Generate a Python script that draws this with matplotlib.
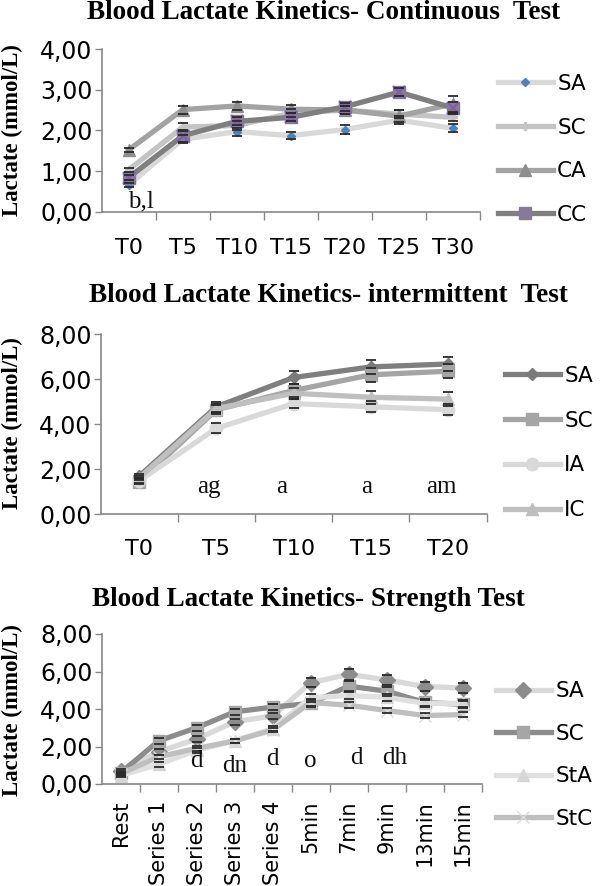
import matplotlib
matplotlib.use('Agg')
import matplotlib.pyplot as plt
import numpy as np

# ---------------- data ----------------
p1_cats = ['T0', 'T5', 'T10', 'T15', 'T20', 'T25', 'T30']
p1_names = ['SA', 'SC', 'CA', 'CC']
p1_SA = [0.66, 1.78, 1.97, 1.87, 2.02, 2.25, 2.05]
p1_SC = [1.03, 2.08, 2.12, 2.42, 2.50, 2.40, 2.32]
p1_CA = [1.52, 2.51, 2.60, 2.52, 2.50, 2.35, 2.65]
p1_CC = [0.84, 1.87, 2.22, 2.32, 2.58, 2.94, 2.55]
p1_err_SA = [0.05, 0.10, 0.10, 0.08, 0.10, 0.10, 0.10]
p1_err_SC = [0.05, 0.10, 0.10, 0.10, 0.10, 0.10, 0.10]
p1_err_CA = [0.05, 0.10, 0.10, 0.10, 0.10, 0.15, 0.20]
p1_err_CC = [0.05, 0.15, 0.10, 0.10, 0.10, 0.10, 0.15]
p1_yticks = [0, 1, 2, 3, 4]
p1_ylabels = ['0,00', '1,00', '2,00', '3,00', '4,00']
p1_notes = ['b,l']
p1_note_x = [0.22]
p1_note_y = [0.11]

p2_cats = ['T0', 'T5', 'T10', 'T15', 'T20']
p2_names = ['SA', 'SC', 'IA', 'IC']
p2_SA = [1.70, 4.78, 6.08, 6.55, 6.68]
p2_SC = [1.45, 4.65, 5.50, 6.20, 6.36]
p2_IA = [1.50, 3.82, 4.92, 4.78, 4.65]
p2_IC = [1.62, 4.70, 5.38, 5.20, 5.12]
p2_err_SA = [0.10, 0.22, 0.28, 0.30, 0.32]
p2_err_SC = [0.10, 0.20, 0.28, 0.30, 0.30]
p2_err_IA = [0.10, 0.22, 0.20, 0.25, 0.25]
p2_err_IC = [0.10, 0.20, 0.25, 0.30, 0.30]
p2_yticks = [0, 2, 4, 6, 8]
p2_ylabels = ['0,00', '2,00', '4,00', '6,00', '8,00']
p2_notes = ['ag', 'a', 'a', 'am']
p2_note_x = [0.9, 1.85, 2.95, 3.92]
p2_note_y = [0.93, 0.93, 0.93, 0.93]

p3_cats = ['Rest', 'Series 1', 'Series 2', 'Series 3', 'Series 4',
           '5min', '7min', '9min', '13min', '15min']
p3_names = ['SA', 'SC', 'StA', 'StC']
p3_SA = [0.70, 1.72, 2.40, 3.32, 3.63, 5.40, 5.85, 5.55, 5.20, 5.12]
p3_SC = [0.60, 2.30, 3.00, 3.85, 4.10, 4.30, 5.22, 4.95, 4.35, 4.25]
p3_StA = [0.45, 1.05, 1.80, 2.30, 2.95, 4.60, 4.72, 4.62, 4.30, 4.30]
p3_StC = [0.55, 1.45, 1.90, 2.30, 2.88, 4.35, 4.20, 3.92, 3.65, 3.70]
p3_err_SA = [0.10, 0.15, 0.15, 0.15, 0.15, 0.25, 0.30, 0.25, 0.25, 0.25]
p3_err_SC = [0.10, 0.15, 0.15, 0.15, 0.15, 0.20, 0.25, 0.25, 0.20, 0.20]
p3_err_StA = [0.10, 0.12, 0.12, 0.12, 0.12, 0.20, 0.20, 0.20, 0.20, 0.20]
p3_err_StC = [0.10, 0.12, 0.12, 0.12, 0.12, 0.20, 0.15, 0.15, 0.15, 0.15]
p3_yticks = [0, 2, 4, 6, 8]
p3_ylabels = ['0,00', '2,00', '4,00', '6,00', '8,00']
p3_notes = ['d', 'dn', 'd', 'o', 'd', 'dh']
p3_note_x = [2, 3, 4, 5, 6.2, 7.2]
p3_note_y = [0.92, 0.66, 1.01, 0.92, 1.07, 1.07]

# ---------------- style ----------------
SANS = 'DejaVu Sans'
SERIF = 'Liberation Serif'
SPINE = '#888888'
ERR = '#2a2a2a'

fig = plt.figure(figsize=(6, 8.86), dpi=100)


def panel(rect, cats, values, errors, names, styles, yticks, ylabels,
          notes, note_x, note_y, rot, xfs, xpad, legend_anchor, legend_spacing):
    ax = fig.add_axes(rect)
    x = np.arange(len(cats))
    for vals, errs, name, st in zip(values, errors, names, styles):
        ax.plot(x, vals, color=st['lc'], lw=3.8, marker=st['m'],
                markersize=st['ms'], markerfacecolor=st['mc'],
                markeredgecolor=st['mc'], label=name, zorder=2,
                solid_joinstyle='round')
        if st.get('overlay'):
            ax.plot(x, vals, ls='none', marker='x', markersize=st['ms'] * 0.9,
                    markeredgecolor=st['overlay'], markeredgewidth=1.6, zorder=3)
        ax.errorbar(x, vals, yerr=errs, fmt='none', ecolor='#777777',
                    elinewidth=0.5, capsize=0, zorder=1.5)
        ax.errorbar(x, vals, yerr=errs, fmt='none', ecolor=ERR, elinewidth=0,
                    capsize=3.5, capthick=1.3, zorder=4)
    ax.set_xlim(-0.5, len(cats) - 0.5)
    ax.set_ylim(yticks[0], yticks[-1])
    ax.set_yticks(yticks)
    ax.set_yticklabels(ylabels, fontsize=17, family=SANS)
    ax.set_xticks(x)
    ax.set_xticklabels(cats, fontsize=xfs, family=SANS, rotation=rot,
                       va='top', ha='center')
    ax.set_xticks(np.arange(0.5, len(cats)), minor=True)
    ax.tick_params(axis='x', which='major', length=0, pad=xpad)
    ax.tick_params(axis='x', which='minor', length=6, width=1, color=SPINE,
                   direction='out')
    ax.tick_params(axis='y', which='major', length=5, width=1, color=SPINE,
                   direction='out', pad=1.5)
    for s in ['top', 'right']:
        ax.spines[s].set_visible(False)
    for s in ['left', 'bottom']:
        ax.spines[s].set_color(SPINE)
        ax.spines[s].set_linewidth(1.2)
    for t, nx, ny in zip(notes, note_x, note_y):
        ax.text(nx, ny, t, ha='center', va='baseline', fontsize=18,
                family=SERIF, color='#111111', zorder=5)
    ax.legend(loc='center left', bbox_to_anchor=legend_anchor,
              bbox_transform=fig.transFigure, frameon=False,
              prop={'family': SANS, 'size': 15.5}, handlelength=2.55,
              handletextpad=0.2, labelspacing=legend_spacing,
              borderpad=0, borderaxespad=0)
    return ax


# Panel 1
st1 = [
    dict(lc='#d9d9d9', m='D', ms=4.5, mc='#4f81bd'),
    dict(lc='#c4c4c4', m='P', ms=6, mc='#c4c4c4'),
    dict(lc='#a3a3a3', m='^', ms=9, mc='#8e8e8e'),
    dict(lc='#7f7f7f', m='s', ms=9, mc='#857b96', overlay='#7f5fa8'),
]
panel([101.7 / 600, 1 - 211.7 / 886, 378.3 / 600, 162.7 / 886], p1_cats,
      [p1_SA, p1_SC, p1_CA, p1_CC], [p1_err_SA, p1_err_SC, p1_err_CA, p1_err_CC],
      p1_names, st1, p1_yticks, p1_ylabels, p1_notes, p1_note_x, p1_note_y,
      0, 16, 19, (498 / 600, 1 - 149.5 / 886), 1.1)

# Panel 2
st2 = [
    dict(lc='#7f7f7f', m='D', ms=6, mc='#7a7a7a'),
    dict(lc='#a5a5a5', m='s', ms=9, mc='#a5a5a5'),
    dict(lc='#d9d9d9', m='o', ms=9, mc='#d9d9d9'),
    dict(lc='#bfbfbf', m='^', ms=9, mc='#bfbfbf'),
]
panel([100.7 / 600, 1 - 514.3 / 886, 385.8 / 600, 180 / 886], p2_cats,
      [p2_SA, p2_SC, p2_IA, p2_IC], [p2_err_SA, p2_err_SC, p2_err_IA, p2_err_IC],
      p2_names, st2, p2_yticks, p2_ylabels, p2_notes, p2_note_x, p2_note_y,
      0, 16, 18, (505 / 600, 1 - 443 / 886), 1.15)

# Panel 3
st3 = [
    dict(lc='#d9d9d9', m='D', ms=8, mc='#8c8c8c'),
    dict(lc='#8c8c8c', m='s', ms=9, mc='#a6a6a6'),
    dict(lc='#e0e0e0', m='^', ms=9, mc='#d6d6d6'),
    dict(lc='#bfbfbf', m='x', ms=8, mc='#dcdcdc'),
]
panel([101.7 / 600, 1 - 784 / 886, 380 / 600, 150 / 886], p3_cats,
      [p3_SA, p3_SC, p3_StA, p3_StC], [p3_err_SA, p3_err_SC, p3_err_StA, p3_err_StC],
      p3_names, st3, p3_yticks, p3_ylabels, p3_notes, p3_note_x, p3_note_y,
      90, 15, 12, (496 / 600, 1 - 755 / 886), 1.05)

# Titles and y labels
titles = ['Blood Lactate Kinetics- Continuous  Test',
          'Blood Lactate Kinetics- intermittent  Test',
          'Blood Lactate Kinetics- Strength Test']
title_x = [324 / 600, 328 / 600, 308 / 600]
title_y = [1 - 12.5 / 886, 1 - 296 / 886, 1 - 600 / 886]
for t, tx, ty in zip(titles, title_x, title_y):
    fig.text(tx, ty, t, ha='center', va='center', family=SERIF,
             fontweight='bold', fontsize=19.5)

ylab_y = [1 - 130 / 886, 1 - 423 / 886, 1 - 710 / 886]
for ty in ylab_y:
    fig.text(12 / 600, ty, 'Lactate (mmol/L)', ha='center', va='center',
             rotation=90, family=SERIF, fontweight='bold', fontsize=16.5)

fig.savefig('out.png', dpi=100)
